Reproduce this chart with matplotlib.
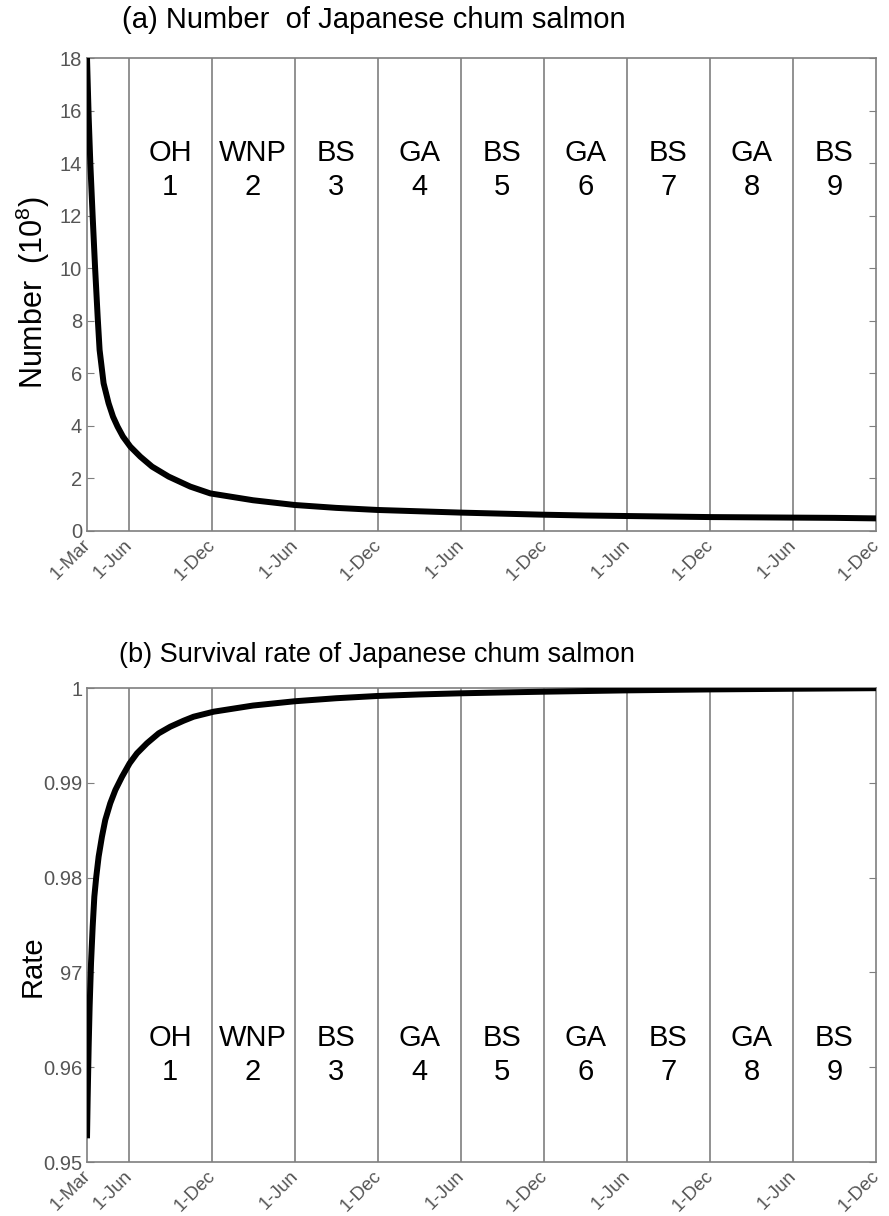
import matplotlib
matplotlib.use("Agg")
import matplotlib.pyplot as plt
import matplotlib.transforms as mtransforms

plt.rcParams["font.family"] = ["Liberation Sans", "DejaVu Sans"]
plt.rcParams["mathtext.default"] = "regular"

# months since 1-Mar
months = [0, 0.12, 0.24, 0.41, 0.58, 0.77, 0.91, 1.2, 1.56, 1.88, 2.21, 2.6, 3.13,
          3.85, 4.7, 5.9, 7.46, 8.91, 12, 15, 18, 21, 24, 27, 30, 33, 36, 39,
          42, 45, 48, 51, 54, 57]
number = [18.0, 15.77, 13.99, 11.96, 10.06, 8.15, 6.89, 5.62, 4.86, 4.35, 3.97, 3.59, 3.21,
          2.83, 2.45, 2.07, 1.69, 1.43, 1.17, 0.99, 0.88, 0.80, 0.75, 0.70, 0.66, 0.62,
          0.59, 0.57, 0.55, 0.53, 0.52, 0.51, 0.50, 0.48]

rate_months = [0, 0.05, 0.12, 0.19, 0.29, 0.41, 0.53, 0.67, 0.84, 1.08, 1.32, 1.68,
               2.05, 2.53, 3.08, 3.61, 4.33, 5.18, 6.02, 6.98, 7.7, 9.15, 12, 15,
               18, 21, 24, 27, 30, 33, 39, 45, 51, 57]
rate = [0.9525, 0.95689, 0.96216, 0.96638, 0.97096, 0.97482, 0.97799, 0.9801, 0.98221,
        0.98432, 0.98608, 0.98784, 0.98924, 0.99064, 0.99206, 0.99311, 0.99417,
        0.99522, 0.99592, 0.99655, 0.99697, 0.9975, 0.99815, 0.9986, 0.99892,
        0.99916, 0.99932, 0.99944, 0.99953, 0.99961, 0.99975, 0.99985, 0.99992,
        0.99998]

tick_pos = [0, 3, 9, 15, 21, 27, 33, 39, 45, 51, 57]
tick_labels = ["1-Mar", "1-Jun", "1-Dec", "1-Jun", "1-Dec", "1-Jun",
               "1-Dec", "1-Jun", "1-Dec", "1-Jun", "1-Dec"]
areas = ["OH", "WNP", "BS", "GA", "BS", "GA", "BS", "GA", "BS"]
age = ["1", "2", "3", "4", "5", "6", "7", "8", "9"]

grey = "#7f7f7f"
label_grey = "#555555"


def style_axes(ax, fig):
    for s in ax.spines.values():
        s.set_color(grey)
        s.set_linewidth(1.2)
    for xv in tick_pos[1:-1]:
        ax.axvline(xv, color=grey, lw=1.2, zorder=1)
    ax.set_xlim(0, 57)
    ax.set_xticks(tick_pos)
    ax.set_xticklabels(tick_labels, rotation=45, ha="right", va="top",
                       fontsize=13.5, color=label_grey)
    ax.tick_params(axis="x", length=0, pad=4)
    shift = mtransforms.ScaledTranslation(7 / 100, 0, fig.dpi_scale_trans)
    for lab in ax.get_xticklabels():
        lab.set_transform(lab.get_transform() + shift)
    ax.tick_params(axis="y", direction="in", length=5, right=True,
                   color=grey, labelsize=14.5, labelcolor=label_grey)


fig = plt.figure(figsize=(8.89, 12.16), dpi=100)

ax1 = fig.add_axes([87 / 889, 1 - 531 / 1216, 789 / 889, 473 / 1216])
style_axes(ax1, fig)
ax1.plot(months, number, color="black", lw=4.3, zorder=3,
         solid_joinstyle="round", solid_capstyle="butt")
ax1.set_ylim(0, 18)
ax1.set_yticks(range(0, 19, 2))
for i, (a, n) in enumerate(zip(areas, age)):
    ax1.text(3 + 6 * i + 3, 0.763, a + "\n" + n, transform=ax1.get_xaxis_transform(),
             ha="center", va="center", fontsize=21, linespacing=1.3)
fig.text(33 / 889, 1 - 293 / 1216, "Number  (10$^8$)", rotation=90,
         ha="center", va="center", fontsize=22)
fig.text(374 / 889, 1 - 20 / 1216, "(a) Number  of Japanese chum salmon",
         ha="center", va="center", fontsize=21)

ax2 = fig.add_axes([87 / 889, 1 - 1162 / 1216, 789 / 889, 474 / 1216])
style_axes(ax2, fig)
ax2.plot(rate_months, rate, color="black", lw=4.3, zorder=3,
         solid_joinstyle="round", solid_capstyle="butt")
ax2.set_ylim(0.95, 1.0)
ax2.set_yticks([0.95, 0.96, 0.97, 0.98, 0.99, 1.0])
ax2.set_yticklabels(["0.95", "0.96", "97", "0.98", "0.99", "1"])
for i, (a, n) in enumerate(zip(areas, age)):
    ax2.text(3 + 6 * i + 3, 0.226, a + "\n" + n, transform=ax2.get_xaxis_transform(),
             ha="center", va="center", fontsize=21, linespacing=1.3)
fig.text(33 / 889, 1 - 966 / 1216, "Rate", rotation=90,
         ha="center", va="center", fontsize=21)
fig.text(377 / 889, 1 - 655 / 1216, "(b) Survival rate of Japanese chum salmon",
         ha="center", va="center", fontsize=19.5)

fig.savefig("out.png", dpi=100)
